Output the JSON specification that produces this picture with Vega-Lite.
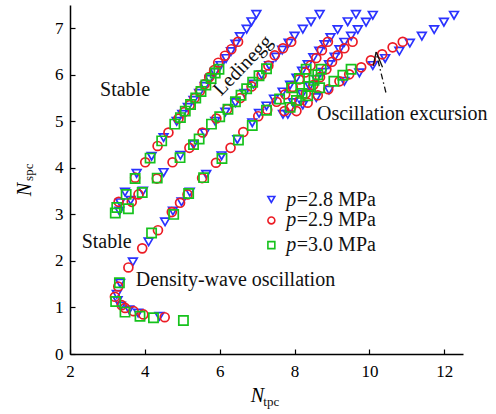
{
  "$schema": "https://vega.github.io/schema/vega-lite/v6.json",
  "width": 393,
  "height": 349,
  "autosize": {"type": "none"},
  "padding": {"left": 70, "top": 5, "right": 33, "bottom": 60},
  "background": "white",
  "config": {"view": {"stroke": null}, "font": "Liberation Serif"},
  "datasets": {
    "pts": [
      {"x":3.32,"y":3.07,"p":"2.8"},{"x":3.34,"y":3.25,"p":"2.8"},{"x":3.47,"y":3.48,"p":"2.8"},{"x":3.78,"y":3.88,"p":"2.8"},{"x":4.18,"y":4.25,"p":"2.8"},{"x":4.5,"y":4.65,"p":"2.8"},{"x":4.85,"y":5.0,"p":"2.8"},{"x":5.0,"y":5.15,"p":"2.8"},{"x":5.15,"y":5.3,"p":"2.8"},{"x":5.3,"y":5.45,"p":"2.8"},{"x":5.45,"y":5.6,"p":"2.8"},{"x":5.6,"y":5.75,"p":"2.8"},{"x":5.73,"y":5.9,"p":"2.8"},{"x":5.87,"y":6.05,"p":"2.8"},{"x":6.02,"y":6.2,"p":"2.8"},{"x":6.17,"y":6.35,"p":"2.8"},{"x":6.3,"y":6.5,"p":"2.8"},{"x":6.42,"y":6.66,"p":"2.8"},{"x":6.54,"y":6.82,"p":"2.8"},{"x":6.72,"y":6.98,"p":"2.8"},{"x":6.85,"y":7.14,"p":"2.8"},{"x":6.98,"y":7.3,"p":"2.8"},
      {"x":3.62,"y":3.3,"p":"2.8"},{"x":3.95,"y":3.5,"p":"2.8"},{"x":4.5,"y":3.9,"p":"2.8"},{"x":4.95,"y":4.27,"p":"2.8"},{"x":5.3,"y":4.5,"p":"2.8"},{"x":5.6,"y":4.75,"p":"2.8"},{"x":5.88,"y":5.0,"p":"2.8"},{"x":6.15,"y":5.2,"p":"2.8"},{"x":6.42,"y":5.4,"p":"2.8"},{"x":6.66,"y":5.6,"p":"2.8"},{"x":6.9,"y":5.8,"p":"2.8"},{"x":7.12,"y":6.0,"p":"2.8"},{"x":7.32,"y":6.2,"p":"2.8"},{"x":7.5,"y":6.38,"p":"2.8"},{"x":7.67,"y":6.53,"p":"2.8"},{"x":7.84,"y":6.68,"p":"2.8"},{"x":8.0,"y":6.83,"p":"2.8"},{"x":8.22,"y":6.98,"p":"2.8"},{"x":8.44,"y":7.14,"p":"2.8"},{"x":8.67,"y":7.3,"p":"2.8"},
      {"x":4.39,"y":0.81,"p":"2.8"},{"x":3.82,"y":0.88,"p":"2.8"},{"x":3.58,"y":0.95,"p":"2.8"},{"x":3.36,"y":1.03,"p":"2.8"},{"x":3.27,"y":1.15,"p":"2.8"},{"x":3.25,"y":1.28,"p":"2.8"},{"x":3.34,"y":1.52,"p":"2.8"},{"x":3.68,"y":1.98,"p":"2.8"},{"x":4.1,"y":2.41,"p":"2.8"},{"x":4.54,"y":2.84,"p":"2.8"},{"x":4.75,"y":3.07,"p":"2.8"},{"x":4.98,"y":3.27,"p":"2.8"},{"x":5.2,"y":3.48,"p":"2.8"},{"x":5.64,"y":3.86,"p":"2.8"},{"x":6.05,"y":4.26,"p":"2.8"},{"x":6.47,"y":4.61,"p":"2.8"},{"x":6.87,"y":4.97,"p":"2.8"},{"x":7.05,"y":5.17,"p":"2.8"},{"x":7.25,"y":5.33,"p":"2.8"},{"x":7.45,"y":5.48,"p":"2.8"},{"x":7.68,"y":5.63,"p":"2.8"},{"x":7.88,"y":5.78,"p":"2.8"},{"x":8.05,"y":5.93,"p":"2.8"},{"x":8.2,"y":6.08,"p":"2.8"},{"x":8.35,"y":6.22,"p":"2.8"},{"x":8.5,"y":6.37,"p":"2.8"},{"x":8.66,"y":6.51,"p":"2.8"},{"x":8.8,"y":6.65,"p":"2.8"},{"x":8.96,"y":6.8,"p":"2.8"},{"x":9.15,"y":6.97,"p":"2.8"},{"x":9.42,"y":7.14,"p":"2.8"},{"x":9.64,"y":7.3,"p":"2.8"},
      {"x":7.69,"y":5.15,"p":"2.8"},{"x":7.96,"y":5.4,"p":"2.8"},{"x":8.2,"y":5.58,"p":"2.8"},{"x":8.4,"y":5.75,"p":"2.8"},{"x":8.58,"y":5.9,"p":"2.8"},{"x":8.75,"y":6.05,"p":"2.8"},{"x":8.92,"y":6.22,"p":"2.8"},{"x":9.07,"y":6.38,"p":"2.8"},{"x":9.2,"y":6.54,"p":"2.8"},{"x":9.33,"y":6.7,"p":"2.8"},{"x":9.51,"y":6.83,"p":"2.8"},{"x":9.69,"y":6.97,"p":"2.8"},{"x":9.91,"y":7.13,"p":"2.8"},{"x":10.09,"y":7.28,"p":"2.8"},
      {"x":7.82,"y":5.15,"p":"2.8"},{"x":8.22,"y":5.35,"p":"2.8"},{"x":8.58,"y":5.51,"p":"2.8"},{"x":8.92,"y":5.67,"p":"2.8"},{"x":9.33,"y":5.86,"p":"2.8"},{"x":9.73,"y":6.04,"p":"2.8"},{"x":10.09,"y":6.2,"p":"2.8"},{"x":10.42,"y":6.35,"p":"2.8"},{"x":10.8,"y":6.51,"p":"2.8"},{"x":11.08,"y":6.68,"p":"2.8"},{"x":11.4,"y":6.83,"p":"2.8"},{"x":11.73,"y":6.97,"p":"2.8"},{"x":11.99,"y":7.13,"p":"2.8"},{"x":12.26,"y":7.28,"p":"2.8"},
      {"x":3.3,"y":3.27,"p":"2.9"},{"x":3.74,"y":3.79,"p":"2.9"},{"x":4.01,"y":4.12,"p":"2.9"},{"x":4.34,"y":4.47,"p":"2.9"},{"x":4.63,"y":4.76,"p":"2.9"},{"x":4.9,"y":5.06,"p":"2.9"},{"x":5.05,"y":5.2,"p":"2.9"},{"x":5.2,"y":5.35,"p":"2.9"},{"x":5.33,"y":5.5,"p":"2.9"},{"x":5.47,"y":5.65,"p":"2.9"},{"x":5.6,"y":5.8,"p":"2.9"},{"x":5.72,"y":5.95,"p":"2.9"},{"x":5.85,"y":6.1,"p":"2.9"},{"x":5.96,"y":6.26,"p":"2.9"},{"x":6.14,"y":6.41,"p":"2.9"},{"x":6.31,"y":6.55,"p":"2.9"},{"x":6.49,"y":6.71,"p":"2.9"},
      {"x":3.65,"y":3.27,"p":"2.9"},{"x":3.83,"y":3.43,"p":"2.9"},{"x":4.32,"y":3.77,"p":"2.9"},{"x":4.74,"y":4.12,"p":"2.9"},{"x":5.19,"y":4.43,"p":"2.9"},{"x":5.54,"y":4.76,"p":"2.9"},{"x":5.91,"y":5.06,"p":"2.9"},{"x":6.2,"y":5.26,"p":"2.9"},{"x":6.55,"y":5.5,"p":"2.9"},{"x":6.85,"y":5.75,"p":"2.9"},{"x":7.12,"y":6.0,"p":"2.9"},{"x":7.3,"y":6.2,"p":"2.9"},{"x":7.47,"y":6.42,"p":"2.9"},{"x":7.69,"y":6.57,"p":"2.9"},{"x":7.91,"y":6.71,"p":"2.9"},
      {"x":4.53,"y":0.79,"p":"2.9"},{"x":3.96,"y":0.85,"p":"2.9"},{"x":3.7,"y":0.92,"p":"2.9"},{"x":3.47,"y":0.99,"p":"2.9"},{"x":3.38,"y":1.05,"p":"2.9"},{"x":3.2,"y":1.23,"p":"2.9"},{"x":3.29,"y":1.45,"p":"2.9"},{"x":3.56,"y":1.86,"p":"2.9"},{"x":3.93,"y":2.27,"p":"2.9"},{"x":4.35,"y":2.66,"p":"2.9"},{"x":4.72,"y":3.05,"p":"2.9"},{"x":4.94,"y":3.25,"p":"2.9"},{"x":5.14,"y":3.43,"p":"2.9"},{"x":5.53,"y":3.78,"p":"2.9"},{"x":5.9,"y":4.11,"p":"2.9"},{"x":6.29,"y":4.43,"p":"2.9"},{"x":6.63,"y":4.77,"p":"2.9"},{"x":7.03,"y":5.11,"p":"2.9"},{"x":7.27,"y":5.25,"p":"2.9"},{"x":7.52,"y":5.42,"p":"2.9"},{"x":7.75,"y":5.58,"p":"2.9"},{"x":7.95,"y":5.74,"p":"2.9"},{"x":8.12,"y":5.9,"p":"2.9"},{"x":8.28,"y":6.05,"p":"2.9"},{"x":8.43,"y":6.2,"p":"2.9"},{"x":8.58,"y":6.36,"p":"2.9"},{"x":8.73,"y":6.53,"p":"2.9"},{"x":8.89,"y":6.71,"p":"2.9"},
      {"x":7.73,"y":5.22,"p":"2.9"},{"x":7.91,"y":5.3,"p":"2.9"},{"x":8.13,"y":5.44,"p":"2.9"},{"x":8.3,"y":5.6,"p":"2.9"},{"x":8.5,"y":5.78,"p":"2.9"},{"x":8.68,"y":5.95,"p":"2.9"},{"x":8.85,"y":6.12,"p":"2.9"},{"x":9.0,"y":6.28,"p":"2.9"},{"x":9.15,"y":6.42,"p":"2.9"},{"x":9.33,"y":6.57,"p":"2.9"},{"x":9.55,"y":6.71,"p":"2.9"},
      {"x":8.05,"y":5.22,"p":"2.9"},{"x":8.35,"y":5.4,"p":"2.9"},{"x":8.62,"y":5.56,"p":"2.9"},{"x":8.9,"y":5.69,"p":"2.9"},{"x":9.2,"y":5.86,"p":"2.9"},{"x":9.46,"y":6.01,"p":"2.9"},{"x":9.78,"y":6.16,"p":"2.9"},{"x":10.04,"y":6.31,"p":"2.9"},{"x":10.34,"y":6.44,"p":"2.9"},{"x":10.62,"y":6.59,"p":"2.9"},{"x":10.89,"y":6.71,"p":"2.9"},
      {"x":3.21,"y":3.03,"p":"3.0"},{"x":3.25,"y":3.15,"p":"3.0"},{"x":3.5,"y":3.43,"p":"3.0"},{"x":3.74,"y":3.77,"p":"3.0"},{"x":4.14,"y":4.21,"p":"3.0"},{"x":4.45,"y":4.58,"p":"3.0"},{"x":4.8,"y":4.94,"p":"3.0"},{"x":4.95,"y":5.08,"p":"3.0"},{"x":5.08,"y":5.22,"p":"3.0"},{"x":5.22,"y":5.36,"p":"3.0"},{"x":5.36,"y":5.5,"p":"3.0"},{"x":5.5,"y":5.64,"p":"3.0"},{"x":5.63,"y":5.78,"p":"3.0"},{"x":5.77,"y":5.92,"p":"3.0"},{"x":5.88,"y":6.04,"p":"3.0"},{"x":5.98,"y":6.12,"p":"3.0"},
      {"x":3.56,"y":3.12,"p":"3.0"},{"x":3.93,"y":3.47,"p":"3.0"},{"x":4.33,"y":3.78,"p":"3.0"},{"x":4.94,"y":4.22,"p":"3.0"},{"x":5.3,"y":4.5,"p":"3.0"},{"x":5.45,"y":4.62,"p":"3.0"},{"x":5.78,"y":4.94,"p":"3.0"},{"x":6.0,"y":5.1,"p":"3.0"},{"x":6.22,"y":5.26,"p":"3.0"},{"x":6.42,"y":5.42,"p":"3.0"},{"x":6.57,"y":5.56,"p":"3.0"},{"x":6.72,"y":5.7,"p":"3.0"},{"x":6.88,"y":5.84,"p":"3.0"},{"x":7.05,"y":5.98,"p":"3.0"},{"x":7.25,"y":6.13,"p":"3.0"},
      {"x":5.03,"y":0.72,"p":"3.0"},{"x":4.23,"y":0.78,"p":"3.0"},{"x":3.87,"y":0.81,"p":"3.0"},{"x":3.47,"y":0.9,"p":"3.0"},{"x":3.22,"y":1.13,"p":"3.0"},{"x":3.32,"y":1.53,"p":"3.0"},{"x":4.18,"y":2.6,"p":"3.0"},{"x":4.77,"y":3.0,"p":"3.0"},{"x":5.17,"y":3.45,"p":"3.0"},{"x":5.57,"y":3.79,"p":"3.0"},{"x":6.06,"y":4.2,"p":"3.0"},{"x":6.5,"y":4.6,"p":"3.0"},{"x":6.87,"y":4.91,"p":"3.0"},{"x":7.25,"y":5.24,"p":"3.0"},{"x":7.6,"y":5.48,"p":"3.0"},{"x":7.92,"y":5.72,"p":"3.0"},{"x":8.13,"y":5.92,"p":"3.0"},{"x":8.31,"y":6.12,"p":"3.0"},
      {"x":7.88,"y":5.3,"p":"3.0"},{"x":8.05,"y":5.45,"p":"3.0"},{"x":8.2,"y":5.6,"p":"3.0"},{"x":8.38,"y":5.75,"p":"3.0"},{"x":8.52,"y":5.88,"p":"3.0"},{"x":8.62,"y":6.0,"p":"3.0"},{"x":8.71,"y":6.12,"p":"3.0"},
      {"x":8.35,"y":5.55,"p":"3.0"},{"x":8.67,"y":5.72,"p":"3.0"},{"x":9.05,"y":5.86,"p":"3.0"},{"x":9.29,"y":5.99,"p":"3.0"},{"x":9.51,"y":6.12,"p":"3.0"}
    ],
    "legend": [
      {"y": 3.32, "p": "2.8", "label": "=2.8 MPa"},
      {"y": 2.87, "p": "2.9", "label": "=2.9 MPa"},
      {"y": 2.34, "p": "3.0", "label": "=3.0 MPa"}
    ],
    "notes": [
      {"x": 3.47, "y": 5.67, "text": "Stable"},
      {"x": 2.98, "y": 2.41, "text": "Stable"},
      {"x": 6.42, "y": 1.6, "text": "Density-wave oscillation"},
      {"x": 10.88, "y": 5.15, "text": "Oscillation excursion"}
    ],
    "rotnotes": [
      {"x": 6.62, "y": 6.2, "text": "Ledinegg"}
    ],
    "shaft": [
      {"x": 10.44, "y": 5.62, "x2": 10.2, "y2": 6.4}
    ],
    "head": [
      {"x": 10.18, "y": 6.49, "x2": 10.1, "y2": 6.19},
      {"x": 10.18, "y": 6.49, "x2": 10.35, "y2": 6.16}
    ]
  },
  "layer": [
    {
      "data": {"name": "pts"},
      "mark": {"type": "point", "filled": false, "strokeWidth": 1.7, "opacity": 1},
      "encoding": {
        "x": {
          "field": "x", "type": "quantitative",
          "scale": {"domain": [2, 12.5], "nice": false, "zero": false},
          "axis": {
            "values": [2, 3, 4, 5, 6, 7, 8, 9, 10, 11, 12],
            "labelExpr": "datum.value % 2 === 0 ? datum.label : ''",
            "labelFlush": false,
            "grid": false,
            "domainColor": "black", "domainWidth": 1.5,
            "tickColor": "black", "tickWidth": 1.2,
            "tickSize": -5,
            "labelFont": "Liberation Serif", "labelFontSize": 17, "labelColor": "black",
            "labelPadding": 14,
            "title": "N",
            "titleFont": "Liberation Serif", "titleFontSize": 20, "titleFontStyle": "italic", "titleFontWeight": "normal", "titleColor": "black",
            "titleX": 187, "titleY": 47, "titleBaseline": "alphabetic", "titleAlign": "center"
          }
        },
        "y": {
          "field": "y", "type": "quantitative",
          "scale": {"domain": [0, 7.5], "nice": false, "zero": false},
          "axis": {
            "values": [0, 0.5, 1, 1.5, 2, 2.5, 3, 3.5, 4, 4.5, 5, 5.5, 6, 6.5, 7],
            "labelExpr": "datum.value % 1 === 0 ? datum.label : ''",
            "labelFlush": false,
            "grid": false,
            "domainColor": "black", "domainWidth": 1.5,
            "tickColor": "black", "tickWidth": 1.2,
            "tickSize": {"condition": {"test": "datum.value % 1 !== 0", "value": -3.5}, "value": -5},
            "labelFont": "Liberation Serif", "labelFontSize": 17, "labelColor": "black",
            "labelPadding": 12,
            "title": "N",
            "titleFont": "Liberation Serif", "titleFontSize": 20, "titleFontStyle": "italic", "titleFontWeight": "normal", "titleColor": "black",
            "titleX": -40, "titleY": 184, "titleBaseline": "alphabetic", "titleAlign": "center", "titleAngle": 270
          }
        },
        "shape": {"field": "p", "type": "nominal", "scale": {"domain": ["2.8", "2.9", "3.0"], "range": ["triangle-down", "circle", "square"]}, "legend": null},
        "color": {"field": "p", "type": "nominal", "scale": {"domain": ["2.8", "2.9", "3.0"], "range": ["#2a32ff", "#ec1b24", "#16c21c"]}, "legend": null},
        "size": {"field": "p", "type": "nominal", "scale": {"domain": ["2.8", "2.9", "3.0"], "range": [75, 85, 50]}, "legend": null}
      }
    },
    {
      "data": {"name": "legend"},
      "mark": {"type": "point", "filled": false, "strokeWidth": 1.6, "size": 48, "opacity": 1},
      "encoding": {
        "x": {"datum": 7.38, "type": "quantitative"},
        "y": {"field": "y", "type": "quantitative"},
        "shape": {"field": "p", "type": "nominal"},
        "color": {"field": "p", "type": "nominal"}
      }
    },
    {
      "data": {"name": "legend"},
      "mark": {"type": "text", "font": "Liberation Serif", "fontSize": 20, "fontStyle": "italic", "align": "left", "baseline": "middle", "color": "#111"},
      "encoding": {
        "x": {"datum": 7.78, "type": "quantitative"},
        "y": {"field": "y", "type": "quantitative"},
        "text": {"value": "p"}
      }
    },
    {
      "data": {"name": "legend"},
      "mark": {"type": "text", "font": "Liberation Serif", "fontSize": 20, "align": "left", "baseline": "middle", "color": "#111"},
      "encoding": {
        "x": {"datum": 8.06, "type": "quantitative"},
        "y": {"field": "y", "type": "quantitative"},
        "text": {"field": "label"}
      }
    },
    {
      "data": {"name": "notes"},
      "mark": {"type": "text", "font": "Liberation Serif", "fontSize": 20, "align": "center", "baseline": "middle", "color": "#111"},
      "encoding": {
        "x": {"field": "x", "type": "quantitative"},
        "y": {"field": "y", "type": "quantitative"},
        "text": {"field": "text"}
      }
    },
    {
      "data": {"name": "rotnotes"},
      "mark": {"type": "text", "font": "Liberation Serif", "fontSize": 20, "align": "center", "baseline": "middle", "angle": 314, "color": "#111"},
      "encoding": {
        "x": {"field": "x", "type": "quantitative"},
        "y": {"field": "y", "type": "quantitative"},
        "text": {"field": "text"}
      }
    },
    {
      "data": {"values": [{"x": 7.165, "y": -1.118, "t": "tpc"}]},
      "mark": {"type": "text", "font": "Liberation Serif", "fontSize": 13, "align": "left", "baseline": "alphabetic", "color": "#111"},
      "encoding": {
        "x": {"field": "x", "type": "quantitative"},
        "y": {"field": "y", "type": "quantitative"},
        "text": {"field": "t"}
      }
    },
    {
      "data": {"values": [{"x": 1.01, "y": 3.72, "t": "spc"}]},
      "mark": {"type": "text", "font": "Liberation Serif", "fontSize": 13, "align": "left", "baseline": "alphabetic", "angle": 270, "color": "#111"},
      "encoding": {
        "x": {"field": "x", "type": "quantitative"},
        "y": {"field": "y", "type": "quantitative"},
        "text": {"field": "t"}
      }
    },
    {
      "data": {"name": "shaft"},
      "mark": {"type": "rule", "color": "#111", "strokeWidth": 1.3, "strokeDash": [6, 3, 1.5, 3]},
      "encoding": {
        "x": {"field": "x", "type": "quantitative"},
        "y": {"field": "y", "type": "quantitative"},
        "x2": {"field": "x2"},
        "y2": {"field": "y2"}
      }
    },
    {
      "data": {"name": "head"},
      "mark": {"type": "rule", "color": "#111", "strokeWidth": 1.3},
      "encoding": {
        "x": {"field": "x", "type": "quantitative"},
        "y": {"field": "y", "type": "quantitative"},
        "x2": {"field": "x2"},
        "y2": {"field": "y2"}
      }
    }
  ]
}
